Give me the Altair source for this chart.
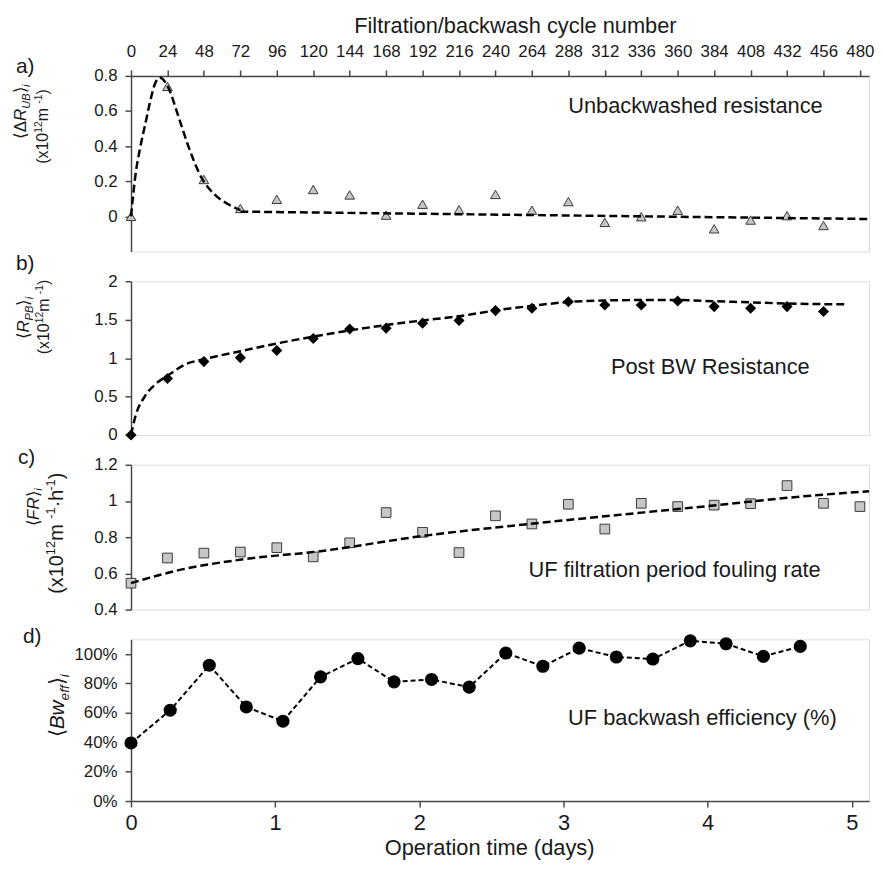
import altair as alt
import pandas as pd

FONT = "Liberation Sans"
TXT = "#1a1a1a"
AX = "#474747"

# ---------------- data ----------------
top_ticks = [0, 24, 48, 72, 96, 120, 144, 168, 192, 216, 240, 264, 288, 312, 336, 360, 384, 408, 432, 456, 480]

cycles_a = [0, 24, 48, 72, 96, 120, 144, 168, 192, 216, 240, 264, 288, 312, 336, 360, 384, 408, 432, 456]
dR_UB = [0.00, 0.74, 0.21, 0.045, 0.097, 0.153, 0.122, 0.007, 0.069, 0.038,
         0.125, 0.035, 0.084, -0.034, -0.002, 0.035, -0.071, -0.021, 0.004, -0.052]
fitA_peak_c = [0, 3, 6, 9.5, 12.5, 16, 19, 24.5, 31, 37.5, 46.5, 55, 64, 72]
fitA_peak_v = [0.0, 0.24, 0.39, 0.53, 0.65, 0.76, 0.79, 0.735, 0.575, 0.406, 0.219, 0.125, 0.069, 0.035]
fitA_tail_c = [72, 486]
fitA_tail_v = [0.027, -0.015]

cycles_b = [0, 24, 48, 72, 96, 120, 144, 168, 192, 216, 240, 264, 288, 312, 336, 360, 384, 408, 432, 456]
R_PB = [0.0, 0.736, 0.955, 1.006, 1.10, 1.255, 1.378, 1.39, 1.455, 1.49,
        1.618, 1.648, 1.734, 1.69, 1.69, 1.743, 1.67, 1.648, 1.67, 1.606]
fitB_c = [0, 3, 9, 16, 24, 36, 48, 72, 96, 120, 144, 168, 192, 216, 240, 264, 288, 312, 336, 360, 384, 408, 432, 470]
fitB_v = [0.0, 0.25, 0.5, 0.66, 0.77, 0.92, 0.985, 1.09, 1.19, 1.28, 1.36, 1.43, 1.49, 1.545, 1.62, 1.68,
          1.73, 1.75, 1.755, 1.755, 1.74, 1.725, 1.71, 1.70]

cycles_c = [0, 24, 48, 72, 96, 120, 144, 168, 192, 216, 240, 264, 288, 312, 336, 360, 384, 408, 432, 456, 480]
FR = [0.546, 0.685, 0.712, 0.718, 0.742, 0.691, 0.769, 0.936, 0.827, 0.715, 0.918,
      0.873, 0.982, 0.845, 0.987, 0.969, 0.977, 0.985, 1.085, 0.987, 0.969]
fitC_c = [0, 30, 75, 122, 195, 267, 338, 386, 434, 486]
fitC_v = [0.546, 0.615, 0.679, 0.72, 0.81, 0.877, 0.937, 0.977, 1.019, 1.054]

days_d = [0, 0.272, 0.543, 0.80, 1.054, 1.315, 1.574, 1.825, 2.085, 2.346,
          2.60, 2.857, 3.109, 3.367, 3.62, 3.88, 4.128, 4.387, 4.643]
BW_eff = [0.395, 0.618, 0.924, 0.64, 0.543, 0.845, 0.969, 0.811, 0.827, 0.775,
          1.007, 0.917, 1.04, 0.98, 0.966, 1.09, 1.07, 0.984, 1.052]

# ---------------- layout ----------------
W = 744
H_A, H_B, H_C, H_D = 177, 155, 146, 163

XC = alt.Scale(domain=[0, 486], nice=False, zero=False)
XD = alt.Scale(domain=[0, 5.12], nice=False, zero=False)

EM = {'0': .556, '1': .556, '2': .556, '(': .333, ')': .333, 'x': .5, 'm': .833, ' ': .278,
      '·': .278, 'h': .556, 'R': .722, 'U': .722, 'B': .667, 'P': .667, 'F': .611, 'Δ': .668,
      '⟨': .39, '⟩': .39, 'i': .222, 'e': .556, 'f': .278, 'w': .722, '-': .333}


def tw(s):
    return sum(EM.get(c, .556) for c in s)


def ytitle(pieces, xb, cy, size):
    out = []
    specs = []
    for t, k in pieces:
        small = k in ("sub", "subi", "sup")
        fs = size * 0.65 if small else size
        specs.append((t, k, fs, tw(t) * fs))
    total = sum(s[3] for s in specs)
    start = cy + total / 2
    off = 0.0
    for t, k, fs, w in specs:
        dy = 0.22 * size if k in ("sub", "subi") else (-0.38 * size if k == "sup" else 0)
        style = "italic" if k in ("i", "subi") else "normal"
        out.append(
            alt.Chart(alt.Data(values=[{"t": t}]))
            .mark_text(angle=270, align="left", baseline="alphabetic", dx=off, dy=dy,
                       fontSize=fs, fontStyle=style, font=FONT, color=TXT)
            .encode(x=alt.value(xb), y=alt.value(start), text="t:N")
        )
        off += w
    return out


def label(txt, x, y, size=21, align="left"):
    return (
        alt.Chart(alt.Data(values=[{"t": txt}]))
        .mark_text(align=align, baseline="middle", fontSize=size, font=FONT, color=TXT)
        .encode(x=alt.value(x), y=alt.value(y), text="t:N")
    )


yaxis_common = dict(title=None, grid=False, labelFontSize=17, labelFont=FONT, labelColor=TXT,
                    tickSize=6, labelPadding=8, domainColor=AX, tickColor=AX,
                    domainWidth=1.5, tickWidth=1.5, labelFlush=False, labelOverlap=False)

# ---------------- panel a ----------------
xa = alt.X("cycle:Q", scale=XC,
           axis=alt.Axis(orient="top", values=top_ticks, title="Filtration/backwash cycle number",
                         titleFontSize=22, titleFont=FONT, titleColor=TXT, titleFontWeight="normal",
                         titleX=387, titleY=-44, titleBaseline="alphabetic", titleAlign="center",
                         labelFontSize=17, labelFont=FONT, labelColor=TXT, labelPadding=10,
                         tickSize=6, domainColor=AX, tickColor=AX, domainWidth=1.5, tickWidth=1.5,
                         grid=False, labelFlush=False, labelOverlap=False))
ya = alt.Y("v:Q", scale=alt.Scale(domain=[-0.2, 0.8], nice=False, zero=False),
           axis=alt.Axis(values=[0, 0.2, 0.4, 0.6, 0.8], format="~g", **yaxis_common))

pts_a = alt.Chart(pd.DataFrame({"cycle": cycles_a, "v": dR_UB})).mark_point(
    shape="triangle-up", filled=True, fill="#c6c6c6", stroke="#3a3a3a", strokeWidth=1,
    size=95, opacity=1).encode(x=xa, y=ya)
fa1 = alt.Chart(pd.DataFrame({"cycle": fitA_peak_c, "v": fitA_peak_v})).mark_line(
    color="#000", strokeWidth=2.5, strokeDash=[8, 4], interpolate="monotone").encode(x=xa, y=ya)
fa2 = alt.Chart(pd.DataFrame({"cycle": fitA_tail_c, "v": fitA_tail_v})).mark_line(
    color="#000", strokeWidth=2.5, strokeDash=[8, 4]).encode(x=xa, y=ya)

panel_a = alt.layer(
    pts_a, fa1, fa2,
    label("Unbackwashed resistance", 569, 30, size=22, align="center"),
    label("a)", -116, -9),
    *ytitle([("⟨", "n"), ("Δ", "n"), ("R", "i"), ("UB", "subi"), ("⟩", "n"), ("i", "subi")], -106, 36, 17),
    *ytitle([("(x10", "n"), ("12", "sup"), (" m", "n"), ("-1", "sup"), (")", "n")], -84, 51, 16),
).properties(width=W, height=H_A)

# ---------------- panel b ----------------
xb = alt.X("cycle:Q", scale=XC, axis=None)
yb = alt.Y("v:Q", scale=alt.Scale(domain=[0, 2], nice=False),
           axis=alt.Axis(values=[0, 0.5, 1, 1.5, 2], format="~g", **yaxis_common))
pts_b = alt.Chart(pd.DataFrame({"cycle": cycles_b, "v": R_PB})).mark_point(
    shape="diamond", filled=True, color="#000", size=125, opacity=1).encode(x=xb, y=yb)
fb = alt.Chart(pd.DataFrame({"cycle": fitB_c, "v": fitB_v})).mark_line(
    color="#000", strokeWidth=2.5, strokeDash=[8, 4], interpolate="monotone").encode(x=xb, y=yb)
panel_b = alt.layer(
    pts_b, fb,
    label("Post BW Resistance", 584, 86, size=22, align="center"),
    label("b)", -116, -17),
    *ytitle([("⟨", "n"), ("R", "i"), ("PB", "subi"), ("⟩", "n"), ("i", "subi")], -102.5, 37, 17),
    *ytitle([("(x10", "n"), ("12", "sup"), (" m", "n"), ("-1", "sup"), (")", "n")], -82.3, 36, 16),
).properties(width=W, height=H_B)

# ---------------- panel c ----------------
yc = alt.Y("v:Q", scale=alt.Scale(domain=[0.4, 1.2], nice=False, zero=False),
           axis=alt.Axis(values=[0.4, 0.6, 0.8, 1.0, 1.2], format="~g", **yaxis_common))
pts_c = alt.Chart(pd.DataFrame({"cycle": cycles_c, "v": FR})).mark_point(
    shape="square", filled=True, fill="#c6c6c6", stroke="#3a3a3a", strokeWidth=1,
    size=95, opacity=1).encode(x=xb, y=yc)
fc = alt.Chart(pd.DataFrame({"cycle": fitC_c, "v": fitC_v})).mark_line(
    color="#000", strokeWidth=2.5, strokeDash=[8, 4], interpolate="monotone").encode(x=xb, y=yc)
panel_c = alt.layer(
    pts_c, fc,
    label("UF filtration period fouling rate", 548, 106, size=22, align="center"),
    label("c)", -114, -7),
    *ytitle([("⟨", "n"), ("FR", "i"), ("⟩", "n"), ("i", "subi")], -93, 43, 17),
    *ytitle([("(x10", "n"), ("12", "sup"), (" m", "n"), ("-1", "sup"), ("·h", "n"), ("-1", "sup"), (")", "n")],
            -69, 69, 20),
).properties(width=W, height=H_C)

# ---------------- panel d ----------------
xd = alt.X("day:Q", scale=XD,
           axis=alt.Axis(values=[0, 1, 2, 3, 4, 5], format="~g", title="Operation time (days)",
                         titleFontSize=22, titleFont=FONT, titleColor=TXT, titleFontWeight="normal",
                         titleX=361, titleY=54, titleBaseline="alphabetic", titleAlign="center",
                         labelFontSize=22, labelFont=FONT, labelColor=TXT, labelPadding=6,
                         tickSize=6, domainColor=AX, tickColor=AX, domainWidth=1.5, tickWidth=1.5,
                         grid=False, labelFlush=False, labelOverlap=False))
yd = alt.Y("v:Q", scale=alt.Scale(domain=[0, 1.1], nice=False),
           axis=alt.Axis(values=[0, 0.2, 0.4, 0.6, 0.8, 1.0], format=".0%", **yaxis_common))
dfd = pd.DataFrame({"day": days_d, "v": BW_eff})
ld = alt.Chart(dfd).mark_line(color="#000", strokeWidth=2, strokeDash=[5, 3]).encode(x=xd, y=yd)
pd_ = alt.Chart(dfd).mark_circle(color="#000", size=175, opacity=1).encode(x=xd, y=yd)
panel_d = alt.layer(
    ld, pd_,
    label("UF backwash efficiency (%)", 576, 79, size=22, align="center"),
    label("d)", -109, -2),
    *ytitle([("⟨", "n"), ("Bw", "i"), ("eff", "subi"), ("⟩", "n"), ("i", "subi")], -67.5, 67, 21),
).properties(width=W, height=H_D)

chart = alt.vconcat(panel_a, panel_b, panel_c, panel_d, spacing=30, bounds="flush").properties(
    padding={"left": 3, "top": 2, "right": 0, "bottom": 0}
).configure_view(stroke=AX, strokeWidth=1.5).configure(font=FONT)

chart.save("out.html", embed_options={"renderer": "svg", "actions": False})
